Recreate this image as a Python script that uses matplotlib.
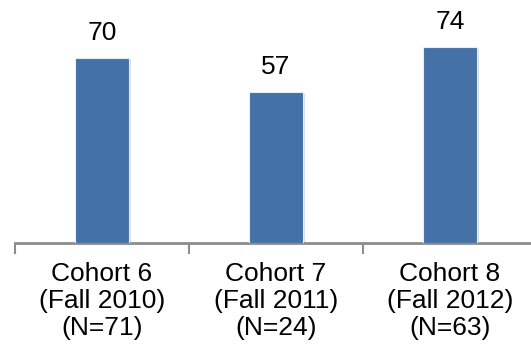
import numpy as np
import matplotlib
matplotlib.use("Agg")
import matplotlib.pyplot as plt
import matplotlib.patheffects as pe

# cohort data
cohorts = ["Cohort 6\n(Fall 2010)\n(N=71)",
           "Cohort 7\n(Fall 2011)\n(N=24)",
           "Cohort 8\n(Fall 2012)\n(N=63)"]
values = [70, 57, 74]

plt.rcParams['font.family'] = ['Liberation Sans', 'DejaVu Sans']

fig = plt.figure(figsize=(5.31, 3.51), dpi=100)
# axis runs a little past the right edge of the figure
ax = fig.add_axes([15 / 531, 108 / 351, 522 / 531, 211.6 / 351])

x = np.arange(len(values))
bars = ax.bar(x, values, width=0.31, color="#4471A6", edgecolor="#E8EEF5",
              linewidth=0.8, zorder=3)
for b in bars:
    b.set_path_effects([pe.SimplePatchShadow(offset=(1.5, -1), shadow_rgbFace="#999999",
                                             alpha=0.35), pe.Normal()])

for xi, v in zip(x, values):
    ax.text(xi, v + 9.5, str(v), ha="center", va="center", fontsize=19,
            color="black", clip_on=False)

ax.set_xlim(-0.5, len(values) - 0.5)
ax.set_ylim(0, 80)

# category labels under the axis
for xi, lab in zip(x, cohorts):
    ax.text(xi, -22.0, lab, ha="center", va="center", fontsize=19,
            linespacing=1.17, clip_on=False)

ax.set_xticks(np.arange(len(values) + 1) - 0.5)
ax.set_xticklabels([])
ax.tick_params(axis="x", length=8, width=1.5, color="#8C8C8C", direction="out")
ax.set_yticks([])

for s in ["top", "right", "left"]:
    ax.spines[s].set_visible(False)
ax.spines["bottom"].set_color("#8C8C8C")
ax.spines["bottom"].set_linewidth(2)

fig.savefig("out.png", dpi=100)
